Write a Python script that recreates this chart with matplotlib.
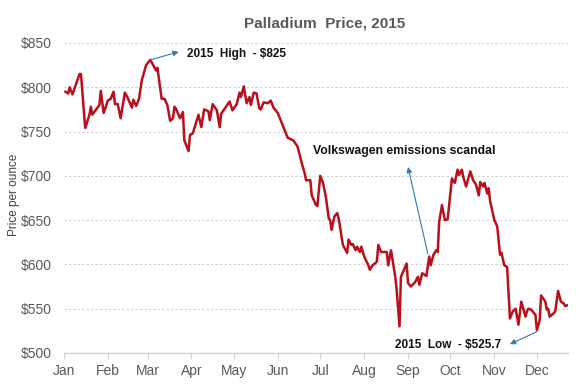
import matplotlib
matplotlib.use("Agg")
import matplotlib.pyplot as plt
import pandas as pd

plt.rcParams['font.family'] = ['Liberation Sans', 'DejaVu Sans']

# Palladium price
dates = [
    "01-02", "01-04", "01-05", "01-07", "01-12", "01-13", "01-16", "01-19", "01-20", "01-21",
    "01-26", "01-27", "01-29", "02-01", "02-03", "02-05", "02-06", "02-08", "02-10", "02-13",
    "02-15", "02-18", "02-19", "02-21", "02-23", "02-25", "02-28", "03-03", "03-05", "03-07",
    "03-08", "03-11", "03-13", "03-15", "03-17", "03-19", "03-20", "03-21", "03-24", "03-26",
    "03-27", "03-30", "03-31", "04-02", "04-06", "04-08", "04-10", "04-13", "04-14", "04-16",
    "04-19", "04-21", "04-22", "04-28", "04-30", "05-03", "05-05", "05-06", "05-08", "05-10",
    "05-12", "05-13", "05-15", "05-17", "05-19", "05-20", "05-22", "05-25", "05-27", "05-29",
    "06-01", "06-05", "06-08", "06-12", "06-15", "06-18", "06-20", "06-21", "06-24", "06-25",
    "06-28", "06-29", "07-01", "07-03", "07-05", "07-07", "07-08", "07-09", "07-11", "07-13",
    "07-14", "07-17", "07-20", "07-21", "07-23", "07-24", "07-26", "07-27", "07-29", "07-30",
    "08-01", "08-04", "08-05", "08-07", "08-10", "08-11", "08-13", "08-17", "08-18", "08-20",
    "08-23", "08-24", "08-26", "08-27", "08-31", "09-01", "09-03", "09-06", "09-08", "09-09",
    "09-11", "09-14", "09-16", "09-17", "09-19", "09-21", "09-22", "09-23", "09-25", "09-27",
    "09-29", "10-02", "10-04", "10-06", "10-07", "10-09", "10-10", "10-12", "10-15", "10-17",
    "10-19", "10-21", "10-22", "10-24", "10-25", "10-27", "10-28", "10-29", "11-01", "11-03",
    "11-05", "11-06", "11-08", "11-10", "11-12", "11-14", "11-16", "11-18", "11-20", "11-23",
    "11-24", "11-25", "11-27", "11-30", "12-01", "12-03", "12-04", "12-07", "12-08", "12-09",
    "12-10", "12-13", "12-14", "12-16", "12-18", "12-20", "12-21", "12-23",
]
prices = [
    795, 793, 800, 792, 815, 815, 754, 769, 778, 769,
    780, 796, 771, 785, 787, 795, 781, 781, 765, 794,
    788, 777, 786, 779, 787, 808, 825, 831, 825, 819,
    822, 787, 787, 780, 762, 765, 778, 776, 765, 772,
    740, 728, 746, 748, 769, 755, 775, 773, 763, 781,
    774, 755, 770, 784, 774, 781, 794, 789, 801, 782,
    789, 780, 794, 793, 776, 775, 783, 782, 785, 777,
    771, 755, 743, 740, 733, 714, 703, 695, 695, 678,
    667, 666, 700, 692, 676, 652, 650, 639, 654, 658,
    652, 622, 613, 628, 622, 623, 616, 620, 614, 620,
    609, 599, 594, 599, 603, 622, 614, 614, 599, 616,
    586, 571, 530, 586, 601, 579, 575, 580, 586, 577,
    590, 587, 609, 599, 611, 616, 614, 648, 667, 650,
    651, 697, 692, 707, 701, 707, 699, 688, 705, 695,
    690, 678, 693, 688, 692, 680, 686, 671, 650, 643,
    611, 613, 599, 597, 539, 547, 550, 532, 558, 541,
    547, 550, 549, 543, 525.7, 537, 565, 558, 549, 550,
    541, 545, 547, 570, 558, 556, 553, 554,
]

month_labels = ["Jan", "Feb", "Mar", "Apr", "May", "Jun",
                "Jul", "Aug", "Sep", "Oct", "Nov", "Dec"]
y_ticks = [500, 550, 600, 650, 700, 750, 800, 850]

x = pd.to_datetime(["2015-" + d for d in dates])

fig = plt.figure(figsize=(5.79, 3.87), dpi=100)
ax = fig.add_axes([0.1105, 0.0879, 0.8705, 0.8010])

ax.plot(x, prices, color='#b8101c', linewidth=1.8)

ax.set_ylim(500, 850)
ax.set_xlim(pd.Timestamp("2015-01-01"), pd.Timestamp("2015-12-23"))
ax.set_yticks(y_ticks)
ax.set_yticklabels(["$%d" % v for v in y_ticks])
month_starts = pd.date_range("2015-01-01", periods=12, freq="MS")
ax.set_xticks(month_starts)
ax.set_xticklabels(month_labels)

# dashed grid lines
for v in y_ticks[1:]:
    ax.axhline(v, color='#cfcfcf', linewidth=0.8, linestyle=(0, (2, 2)), zorder=0)

for s in ['top', 'right', 'left']:
    ax.spines[s].set_visible(False)
ax.spines['bottom'].set_color('#d0d0d0')
ax.spines['bottom'].set_linewidth(1.0)

ax.tick_params(axis='y', length=0, pad=9, labelsize=10, labelcolor='#595959')
ax.tick_params(axis='x', length=4, color='#d0d0d0', direction='out', pad=4,
               labelsize=10, labelcolor='#595959')

arrow = dict(arrowstyle='-|>', color='#2f7dab', lw=0.8, mutation_scale=8,
             shrinkA=0, shrinkB=0)

# 2015 high
ax.annotate("", xy=(pd.Timestamp("2015-03-23"), 840), xytext=(pd.Timestamp("2015-03-03"), 831),
            arrowprops=arrow)
ax.text(pd.Timestamp("2015-03-29"), 837.5, "2015  High  - $825", fontsize=8.5,
        fontweight='bold', color='#111111', ha='left', va='center')

# Volkswagen
ax.annotate("", xy=(pd.Timestamp("2015-09-01"), 710), xytext=(pd.Timestamp("2015-09-15"), 612),
            arrowprops=arrow)
ax.text(pd.Timestamp("2015-08-29"), 728, "Volkswagen emissions scandal", fontsize=8.8,
        fontweight='bold', color='#111111', ha='center', va='center')

# 2015 low
ax.annotate("", xy=(pd.Timestamp("2015-11-12"), 510), xytext=(pd.Timestamp("2015-12-01"), 524),
            arrowprops=arrow, annotation_clip=False)
ax.text(pd.Timestamp("2015-09-29"), 509, "2015  Low  - $525.7", fontsize=8.5,
        fontweight='bold', color='#111111', ha='center', va='center')

fig.text(325 / 579, 1 - 23 / 387, "Palladium  Price, 2015", ha='center', va='center',
         fontsize=11, fontweight='bold', color='#595959')
fig.text(14 / 579, 1 - 195 / 387, "Price per ounce", rotation=90, ha='center', va='center',
         fontsize=8.5, color='#404040')

fig.savefig("out.png", dpi=100)
